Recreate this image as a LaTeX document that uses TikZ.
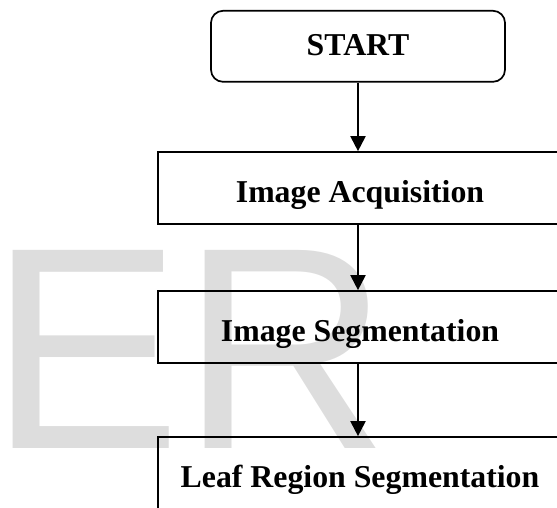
\documentclass[tikz,border=0pt]{standalone}
\usepackage{fontspec}
\setmainfont{Liberation Serif}
\newfontfamily\wmfont{Liberation Sans}
\usetikzlibrary{arrows.meta}
\definecolor{wm}{HTML}{DDDDDD}
\begin{document}
\begin{tikzpicture}[x=1pt,y=-1pt,
  box/.style={draw,line width=1.7pt,minimum height=72pt,inner sep=0pt,
    font=\fontsize{31.8}{36}\selectfont\bfseries,text height=28pt,text depth=0pt},
  flow/.style={line width=2pt,-{Triangle[width=15pt,length=15pt]}}]
\useasboundingbox (0,0) rectangle (557,507);
\clip (0,0) rectangle (557,507);
\node[anchor=base west,inner sep=0pt,text=wm,
  font=\wmfont\fontsize{288}{300}\selectfont] (wm) at (12,448) {\hspace*{-22.7pt}ER};
\node[box,rounded corners=12pt,minimum width=294pt,minimum height=71pt,
  text height=17.4pt] (start) at (358,46.3) {START};
\node[box,minimum width=404pt] (acq) at (360,188) {Image Acquisition};
\node[box,minimum width=404pt] (seg) at (360,327) {Image Segmentation};
\node[box,minimum width=404pt] (leaf) at (360,473) {Leaf Region Segmentation};
\draw[flow] (start.south) -- (start.south |- acq.north);
\draw[flow] (acq.south -| start.south) -- (start.south |- seg.north);
\draw[flow] (seg.south -| start.south) -- (start.south |- leaf.north);
\end{tikzpicture}
\end{document}
